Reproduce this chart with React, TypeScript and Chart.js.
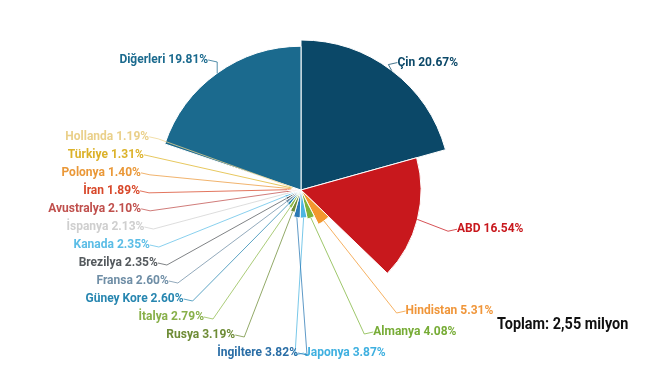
import React, { useEffect, useRef } from "react";
import { Chart, registerables } from "chart.js";

Chart.register(...registerables);

const categories = [
  "Çin", "ABD", "Hindistan", "Almanya", "Japonya", "İngiltere", "Rusya", "İtalya",
  "Güney Kore", "Fransa", "Brezilya", "Kanada", "İspanya", "Avustralya", "İran",
  "Polonya", "Türkiye", "Hollanda", "Diğerleri",
];
const shares = [
  20.67, 16.54, 5.31, 4.08, 3.87, 3.82, 3.19, 2.79, 2.6, 2.6, 2.35, 2.35, 2.13, 2.1, 1.89,
  1.4, 1.31, 1.19, 19.81,
];
const sliceColors = [
  "#0b4868", "#c8181d", "#f3972e", "#7db43a", "#4cb6e2", "#2a78b4", "#6e8c36", "#8fbb4c",
  "#2786b0", "#6f8ea6", "#555a5e", "#62c0e8", "#d2d2d2", "#c0504d", "#d8482a",
  "#ec9a3c", "#dfb52a", "#eed48e", "#1b6a8e",
];
const labelColors = [
  "#0b4868", "#c8181d", "#f0963a", "#77ac36", "#3fb0e0", "#2a6ea6", "#6e8c36", "#88b04a",
  "#2786b0", "#6f8ea6", "#555a5e", "#5bbde6", "#cfcfcf", "#c0504d", "#d8482a",
  "#ea9838", "#dcb22a", "#ead08a", "#1b6a8e",
];
const totalText = "Toplam: 2,55 milyon";

const FONT = "'Liberation Sans Narrow', Roboto, sans-serif";

function distribute(list: any[], sp: number, top: number, bot: number) {
  let groups = list.map((it) => ({ items: [it], start: it.y }));
  const place = (g: any) => {
    const n = g.items.length;
    const mean = g.items.reduce((s: number, it: any) => s + it.t, 0) / n;
    let start = mean - ((n - 1) * sp) / 2;
    start = Math.max(top, Math.min(start, bot - (n - 1) * sp));
    g.start = start;
  };
  let merged = true;
  while (merged) {
    merged = false;
    groups.forEach(place);
    for (let k = 0; k < groups.length - 1; k++) {
      const a = groups[k];
      const b = groups[k + 1];
      if (b.start < a.start + a.items.length * sp) {
        a.items = a.items.concat(b.items);
        groups.splice(k + 1, 1);
        merged = true;
        break;
      }
    }
  }
  groups.forEach((g) => g.items.forEach((it: any, j: number) => (it.y = g.start + j * sp)));
}

const labelPlugin = {
  id: "outLabels",
  afterDatasetsDraw(chart: any) {
    const ctx = chart.ctx as CanvasRenderingContext2D;
    const meta = chart.getDatasetMeta(0);
    const scale = chart.scales.r;
    const cx = scale.xCenter;
    const cy = scale.yCenter;
    const Ry = scale.drawingArea + 10;
    const Rx = scale.drawingArea + 8;
    const items = meta.data.map((arc: any, i: number) => {
      const p = arc.getProps(["startAngle", "endAngle", "outerRadius"], true);
      const mid = (p.startAngle + p.endAngle) / 2;
      const t = cy + Math.sin(mid) * Ry;
      return { i, mid, r: p.outerRadius, side: Math.cos(mid) >= 0 ? 1 : -1, t, y: t };
    });
    const topB = 20;
    const botB = chart.height - 20;
    [1, -1].forEach((side) => {
      const list = items.filter((it: any) => it.side === side).sort((a: any, b: any) => a.t - b.t);
      distribute(list, side > 0 ? 21 : 18, topB, botB);
    });
    ctx.save();
    ctx.font = "bold 12px " + FONT;
    ctx.textBaseline = "middle";
    items.forEach((it: any) => {
      const dy = it.y - cy;
      const dx = Math.abs(dy) < Rx ? Math.sqrt(Rx * Rx - dy * dy) : 0;
      const xEdge = cx + it.side * (dx + 2);
      const sx = cx + Math.cos(it.mid) * it.r;
      const sy = cy + Math.sin(it.mid) * it.r;
      ctx.strokeStyle = sliceColors[it.i];
      ctx.globalAlpha = 0.75;
      ctx.lineWidth = 1;
      ctx.beginPath();
      ctx.moveTo(xEdge + it.side * 1, it.y);
      ctx.lineTo(xEdge - it.side * 8, it.y + 2);
      ctx.lineTo(sx, sy);
      ctx.stroke();
      ctx.globalAlpha = 1;
      ctx.fillStyle = labelColors[it.i];
      ctx.textAlign = it.side > 0 ? "left" : "right";
      const txt = categories[it.i] + " " + shares[it.i].toFixed(2) + "%";
      ctx.fillText(txt, xEdge + it.side * 1, it.y);
    });
    ctx.font = "bold 17px " + FONT;
    ctx.fillStyle = "#111111";
    ctx.textAlign = "left";
    ctx.translate(497, 325);
    ctx.scale(0.85, 1);
    ctx.fillText(totalText, 0, 0);
    ctx.restore();
  },
};

export default function App() {
  const ref = useRef<HTMLCanvasElement | null>(null);
  useEffect(() => {
    document.body.style.margin = "0";
    const total = shares.reduce((a, b) => a + b, 0);
    const angles = shares.map((v) => (v / total) * 360);
    const chart = new Chart(ref.current as HTMLCanvasElement, {
      type: "polarArea",
      data: {
        labels: categories,
        datasets: [
          {
            data: shares,
            backgroundColor: sliceColors,
            borderColor: "#ffffff",
            borderWidth: 1,
            angle: angles,
          } as any,
        ],
      },
      options: {
        animation: false,
        responsive: false,
        maintainAspectRatio: false,
        layout: { padding: { left: 0, right: 57, top: 40, bottom: 33 } },
        plugins: { legend: { display: false }, tooltip: { enabled: false } },
        scales: {
          r: {
            display: false,
            min: 0,
            max: Math.max(...shares),
            ticks: { display: false },
          },
        },
      },
      plugins: [labelPlugin],
    });
    return () => chart.destroy();
  }, []);
  return (
    <div style={{ width: 659, height: 373 }}>
      <canvas ref={ref} width={659} height={373} style={{ display: "block" }} />
    </div>
  );
}
